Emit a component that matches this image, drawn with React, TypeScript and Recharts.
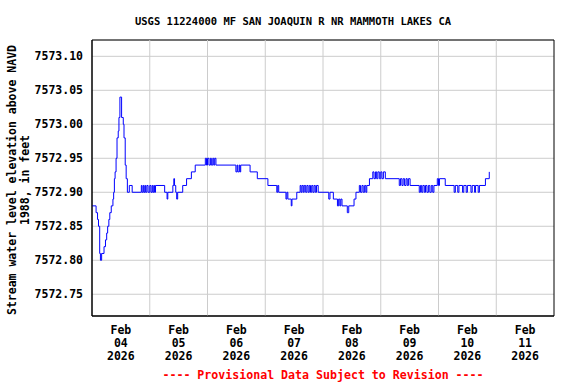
import React from 'react'
import { LineChart, Line, XAxis, YAxis, CartesianGrid, ReferenceLine, ReferenceArea } from 'recharts'

// hours since Feb 04 2026 00:00, where the 15-min gage height changes
const HOURS = [
  0, 1.7, 2.3, 2.7, 3.2, 3.5, 4.0, 5.0, 5.6, 6.1, 6.5, 7.0, 7.4, 8.0, 8.7, 9.0, 9.3, 9.6, 10.0, 10.4,
  10.9, 11.2, 11.6, 12.3, 13.0, 13.3, 13.8, 14.2, 14.7, 15.5, 16.7, 20.5, 20.8, 21.3, 21.6, 22.0, 22.3, 22.8, 23.3, 24.0,
  24.5, 25.0, 25.3, 25.7, 26.0, 26.4, 30.2, 31.2, 31.5, 33.6, 34.0, 34.3, 34.8, 35.2, 35.6, 37.7, 39.3, 41.3, 42.9, 47.1,
  47.6, 48.0, 48.6, 49.2, 49.6, 50.2, 50.6, 51.0, 51.5, 59.8, 60.3, 60.6, 61.2, 61.5, 61.8, 65.7, 68.7, 73.1, 76.8, 77.2,
  77.6, 80.6, 81.0, 81.4, 82.8, 83.1, 85.1, 86.5, 86.9, 87.3, 87.8, 88.2, 88.8, 89.3, 89.8, 90.3, 90.8, 91.3, 91.8, 92.3,
  92.8, 93.3, 94.0, 98.4, 98.9, 100.3, 102.0, 102.5, 103.0, 103.4, 103.9, 106.1, 106.7, 108.9, 109.7, 111.1, 111.6, 112.2, 112.7, 113.3,
  113.8, 114.2, 115.3, 116.7, 117.2, 117.8, 118.3, 118.8, 119.4, 120.0, 120.5, 121.1, 121.9, 127.7, 128.2, 128.8, 129.3, 129.9, 130.5, 131.0,
  131.5, 132.2, 136.0, 136.5, 137.0, 137.5, 138.1, 138.6, 139.2, 139.8, 140.4, 141.0, 141.6, 142.1, 143.5, 144.0, 144.4, 146.8, 150.5, 151.0,
  152.0, 152.5, 154.0, 154.5, 155.5, 156.0, 157.5, 158.0, 159.0, 159.4, 160.5, 161.0, 163.5, 165.1,
]

const LEVELS = [
  7572.88, 7572.87, 7572.86, 7572.85, 7572.81, 7572.80, 7572.81, 7572.82, 7572.83, 7572.84, 7572.85, 7572.86, 7572.87, 7572.88, 7572.89, 7572.90, 7572.92, 7572.93, 7572.95, 7572.98,
  7572.99, 7573.01, 7573.04, 7573.01, 7573.00, 7572.98, 7572.94, 7572.92, 7572.90, 7572.91, 7572.90, 7572.91, 7572.90, 7572.91, 7572.90, 7572.91, 7572.90, 7572.91, 7572.90, 7572.91,
  7572.90, 7572.91, 7572.90, 7572.91, 7572.90, 7572.91, 7572.90, 7572.89, 7572.90, 7572.91, 7572.92, 7572.91, 7572.90, 7572.89, 7572.90, 7572.91, 7572.92, 7572.93, 7572.94, 7572.95,
  7572.94, 7572.95, 7572.94, 7572.95, 7572.94, 7572.95, 7572.94, 7572.95, 7572.94, 7572.93, 7572.94, 7572.93, 7572.94, 7572.93, 7572.94, 7572.93, 7572.92, 7572.91, 7572.90, 7572.91,
  7572.90, 7572.89, 7572.90, 7572.89, 7572.88, 7572.89, 7572.90, 7572.91, 7572.90, 7572.91, 7572.90, 7572.91, 7572.90, 7572.91, 7572.90, 7572.91, 7572.90, 7572.91, 7572.90, 7572.91,
  7572.90, 7572.91, 7572.90, 7572.89, 7572.90, 7572.89, 7572.88, 7572.89, 7572.88, 7572.89, 7572.88, 7572.87, 7572.88, 7572.89, 7572.90, 7572.91, 7572.90, 7572.91, 7572.90, 7572.91,
  7572.90, 7572.91, 7572.92, 7572.93, 7572.92, 7572.93, 7572.92, 7572.93, 7572.92, 7572.93, 7572.92, 7572.93, 7572.92, 7572.91, 7572.92, 7572.91, 7572.92, 7572.91, 7572.92, 7572.91,
  7572.92, 7572.91, 7572.90, 7572.91, 7572.90, 7572.91, 7572.90, 7572.91, 7572.90, 7572.91, 7572.90, 7572.91, 7572.90, 7572.91, 7572.92, 7572.91, 7572.92, 7572.91, 7572.90, 7572.91,
  7572.90, 7572.91, 7572.90, 7572.91, 7572.90, 7572.91, 7572.90, 7572.91, 7572.90, 7572.91, 7572.90, 7572.91, 7572.92, 7572.93,
]

const Y_TICKS = [7572.75, 7572.8, 7572.85, 7572.9, 7572.95, 7573.0, 7573.05, 7573.1]
const DAY_TICKS = [12, 36, 60, 84, 108, 132, 156, 180] // noon of each day
const DAY_LABELS = ['04', '05', '06', '07', '08', '09', '10', '11']
const MIDNIGHTS = [24, 48, 72, 96, 120, 144, 168]

const X_MIN = 0
const X_MAX = 192
const Y_MIN = 7572.718
const Y_MAX = 7573.124

const FONT = '"DejaVu Sans Mono", monospace'

const data = HOURS.map((h, i) => ({ h, level: LEVELS[i] }))

const DayTick = (props: any) => {
  const { x, y, payload } = props
  const i = DAY_TICKS.indexOf(payload.value)
  return (
    <text x={x} y={y} textAnchor="middle" fontFamily={FONT} fontSize={11.5} fontWeight="bold" fill="#000">
      <tspan x={x} dy={18}>Feb</tspan>
      <tspan x={x} dy={13}>{DAY_LABELS[i]}</tspan>
      <tspan x={x} dy={13}>2026</tspan>
    </text>
  )
}

const YLabel = () => (
  <text transform="translate(15.5,180) rotate(-90)" textAnchor="middle" fontFamily={FONT} fontSize={11.5} fontWeight="bold" fill="#000">
    <tspan x={0} dy={0}>Stream water level elevation above NAVD</tspan>
    <tspan x={0} dy={13.5}>1988, in feet</tspan>
  </text>
)

export default function App() {
  return (
    <div style={{ position: 'absolute', left: 0, top: 0, width: 576, height: 384, background: '#fff' }}>
      <div
        style={{
          position: 'absolute', left: 0, top: 14, width: 586, textAlign: 'center',
          fontFamily: FONT, fontSize: 10.5, fontWeight: 'bold', color: '#000', lineHeight: '14px',
        }}
      >
        USGS 11224000 MF SAN JOAQUIN R NR MAMMOTH LAKES CA
      </div>
      <LineChart width={576} height={384} data={data} margin={{ top: 40, right: 22, bottom: 40, left: 0 }}>
        <CartesianGrid vertical={false} stroke="#cccccc" />
        {MIDNIGHTS.map((m) => (
          <ReferenceLine key={m} x={m} stroke="#cccccc" />
        ))}
        <XAxis
          dataKey="h"
          type="number"
          domain={[X_MIN, X_MAX]}
          ticks={DAY_TICKS}
          interval={0}
          height={28}
          tick={<DayTick />}
          tickLine={false}
          tickSize={0}
          tickMargin={0}
          axisLine={{ stroke: '#000' }}
          allowDataOverflow
        />
        <YAxis
          type="number"
          domain={[Y_MIN, Y_MAX]}
          ticks={Y_TICKS}
          interval={0}
          width={92}
          tickLine={false}
          tickSize={0}
          tickMargin={9}
          tickFormatter={(v: number) => v.toFixed(2)}
          tick={{ fontFamily: FONT, fontSize: 11.5, fontWeight: 'bold', fill: '#000' }}
          axisLine={{ stroke: '#000' }}
          allowDataOverflow
          label={<YLabel />}
        />
        <Line
          type="stepAfter"
          dataKey="level"
          stroke="#0000ff"
          strokeWidth={1}
          dot={false}
          isAnimationActive={false}
        />
        <ReferenceArea x1={X_MIN} x2={X_MAX} y1={Y_MIN} y2={Y_MAX} fill="none" stroke="#000" strokeWidth={1} />
      </LineChart>
      <div
        style={{
          position: 'absolute', left: 92, top: 368, width: 462, textAlign: 'center',
          fontFamily: FONT, fontSize: 11.6, fontWeight: 'bold', color: '#ff0000', lineHeight: '14px',
        }}
      >
        ---- Provisional Data Subject to Revision ----
      </div>
    </div>
  )
}
